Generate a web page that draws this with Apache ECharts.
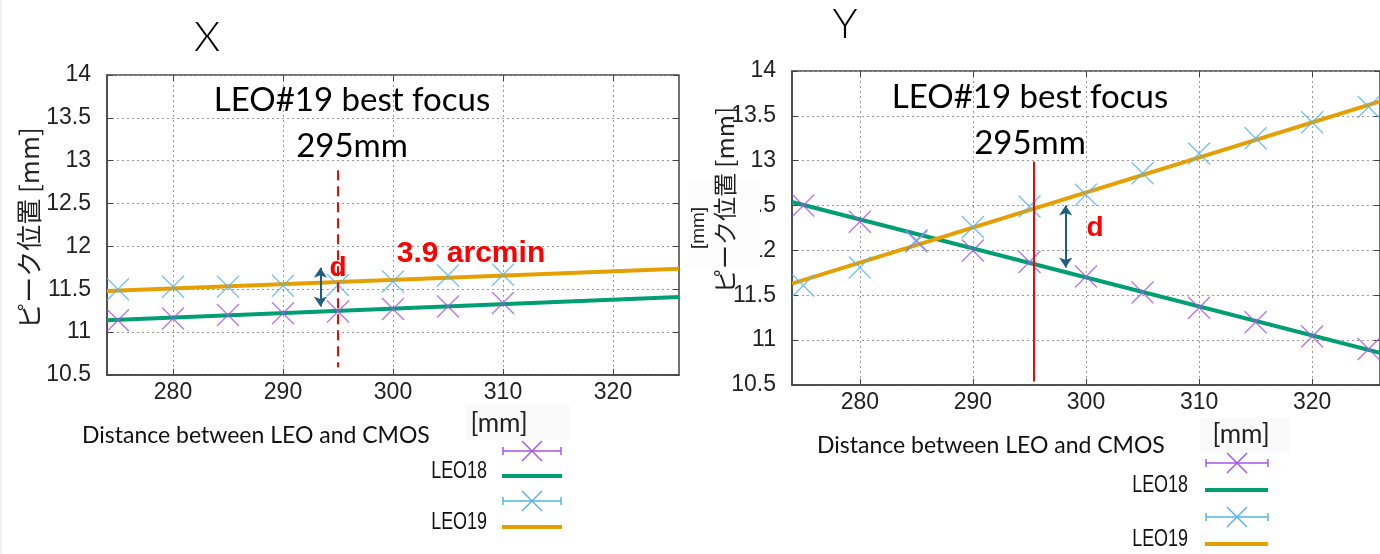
<!DOCTYPE html>
<html><head><meta charset="utf-8">
<script src="https://cdn.jsdelivr.net/npm/echarts@6/dist/echarts.min.js"></script>
<style>html,body{margin:0;padding:0;background:#fff}#c{width:1380px;height:554px}</style>
</head><body><div id="c"></div><script>
// ---- data ----
const xTickValues = [280, 290, 300, 310, 320];
const leftX = [275, 280, 285, 290, 295, 300, 305, 310];
const leftLEO18 = [11.14, 11.16, 11.20, 11.22, 11.24, 11.27, 11.30, 11.34];
const leftLEO19 = [11.50, 11.53, 11.53, 11.54, 11.55, 11.59, 11.66, 11.67];
const leftFitX = [274, 326];
const leftFit18 = [11.14, 11.41];
const leftFit19 = [11.48, 11.74];
const rightX = [275, 280, 285, 290, 295, 300, 305, 310, 315, 320, 325];
const rightLEO18 = [12.50, 12.32, 12.11, 12.00, 11.87, 11.71, 11.53, 11.36, 11.20, 11.04, 10.90];
const rightLEO19 = [11.61, 11.81, 12.10, 12.26, 12.49, 12.62, 12.86, 13.08, 13.25, 13.43, 13.60];
const rightFitX = [274, 326];
const rightFit18 = [12.54, 10.86];
const rightFit19 = [11.63, 13.66];
const leftFocus = 295, rightFocus = 295.4;

const C18 = '#a855e8', C19 = '#56b4e9', G = '#009e73', O = '#e69f00';
const XSYM = 'path://M0,0L10,10M10,0L0,10';
const zip = (a, b) => a.map((v, i) => [v, b[i]]);

const tickFont = { fontFamily: 'Liberation Sans', fontSize: 23, color: '#222' };
function xAxis(g, top) {
  return {
    type: 'value', gridIndex: g, min: 274, max: 326, position: top ? 'top' : 'bottom',
    axisLine: { show: !top, lineStyle: { color: '#444', width: 1.5 } },
    axisTick: { show: true, inside: true, length: 6, customValues: xTickValues, lineStyle: { color: '#444' } },
    axisLabel: { show: !top, customValues: xTickValues, margin: 6, ...tickFont },
    splitLine: { show: !top, lineStyle: { color: '#999', type: [2, 3], width: 1 } }
  };
}
function yAxis(g, right) {
  return {
    type: 'value', gridIndex: g, min: 10.5, max: 14, interval: 0.5, position: right ? 'right' : 'left',
    axisLine: { show: !right, lineStyle: { color: '#444', width: 1.5 } },
    axisTick: { show: true, inside: true, length: 6, lineStyle: { color: '#444' } },
    axisLabel: { show: !right, margin: 16, ...tickFont },
    splitLine: { show: !right, lineStyle: { color: '#999', type: [2, 3], width: 1 } }
  };
}
function marks(name, xi, yi, xs, ys, color) {
  return { type: 'scatter', name, xAxisIndex: xi, yAxisIndex: yi, data: zip(xs, ys), symbol: XSYM, symbolSize: 22,
    itemStyle: { color: 'none', borderColor: color, borderWidth: 1.4 }, z: 3, silent: true };
}
function fit(name, xi, yi, xs, ys, color) {
  return { type: 'line', name, xAxisIndex: xi, yAxisIndex: yi, data: zip(xs, ys), showSymbol: false,
    lineStyle: { color, width: 4 }, z: 2, silent: true };
}
function vline(xi, yi, x, y0, y1, style, sym) {
  return { type: 'line', xAxisIndex: xi, yAxisIndex: yi, data: [], silent: true,
    markLine: { silent: true, symbol: sym || ['none', 'none'], symbolSize: 10, label: { show: false },
      lineStyle: style, data: [[{ coord: [x, y0] }, { coord: [x, y1] }]] } };
}

// ---- graphics ----
const g = [];
function txt(x, y, text, font, fill, align, extra) {
  g.push(Object.assign({ type: 'text', x, y, z: 110, style: { text, font, fill: fill || '#000', align: align || 'center', verticalAlign: 'middle' } }, extra || {}));
}
function ln(x1, y1, x2, y2, stroke, w) {
  g.push({ type: 'line', z: 110, shape: { x1, y1, x2, y2 }, style: { stroke, lineWidth: w } });
}
function errMark(xl, xr, y, color) {
  ln(xl, y, xr, y, color, 1.5);
  ln(xl, y - 4, xl, y + 4, color, 1.5);
  ln(xr, y - 4, xr, y + 4, color, 1.5);
  const cx = (xl + xr) / 2;
  ln(cx - 10, y - 10, cx + 10, y + 10, color, 1.4);
  ln(cx - 10, y + 10, cx + 10, y - 10, color, 1.4);
}
const calib = (s) => s + 'px Lato';
const narrow = { scaleX: 0.78, originX: 0 };
// page edge
ln(1, 0, 1, 554, '#e4e4e4', 1);
// left chart texts
txt(207, 37, 'X', '300 42px Lato');
txt(352, 100, 'LEO#19 best focus', calib(33));
txt(352, 146, '295mm', calib(33));
txt(471, 254, '3.9 arcmin', 'bold 30px Liberation Sans', '#ff0000');
txt(338, 268, 'd', 'bold 28px Liberation Sans', '#ff0000');
txt(29, 228, 'ピーク位置 [mm]', '26px Noto Sans CJK JP', '#222', 'center', { rotation: Math.PI / 2 });
g.push({ type: 'rect', z: 105, shape: { x: 466, y: 405, width: 104, height: 35 }, style: { fill: '#f9f9f9' } });
txt(499, 424, '[mm]', calib(26), '#222');
txt(82, 436, 'Distance between LEO and CMOS', calib(23), '#111', 'left');
errMark(503, 561, 451, C18);
ln(502, 476, 562, 476, G, 4);
txt(487, 472, 'LEO18', '23px Liberation Sans', '#111', 'right', narrow);
errMark(503, 561, 501, C19);
ln(502, 527, 562, 527, O, 4);
txt(487, 523, 'LEO19', '23px Liberation Sans', '#111', 'right', narrow);
// right chart texts
txt(845, 24, 'Y', '300 42px Lato');
txt(1030, 97, 'LEO#19 best focus', calib(33));
txt(1030, 143, '295mm', calib(33));
txt(1095, 228, 'd', 'bold 28px Liberation Sans', '#ff0000');
g.push({ type: 'rect', z: 105, shape: { x: 688, y: 180, width: 72, height: 87 }, style: { fill: '#fdfdfd' } });
txt(725, 200, 'ピーク位置 [mm]', '24px Noto Sans CJK JP', '#222', 'center', { rotation: Math.PI / 2 });
txt(699, 228, '[mm]', '19px Liberation Sans', '#222', 'center', { rotation: Math.PI / 2 });
g.push({ type: 'rect', z: 105, shape: { x: 1200, y: 418, width: 90, height: 34 }, style: { fill: '#fafafa' } });
txt(1241, 435, '[mm]', calib(26), '#222');
txt(817, 446, 'Distance between LEO and CMOS', calib(23), '#111', 'left');
errMark(1206, 1268, 463, C18);
ln(1205, 490, 1268, 490, G, 4);
txt(1188, 486, 'LEO18', '23px Liberation Sans', '#111', 'right', narrow);
errMark(1206, 1268, 517, C19);
ln(1205, 544, 1268, 544, O, 4);
txt(1188, 540, 'LEO19', '23px Liberation Sans', '#111', 'right', narrow);

const chart = echarts.init(document.getElementById('c'), null, { renderer: 'canvas' });
chart.setOption({
  animation: false,
  backgroundColor: '#fff',
  grid: [
    { left: 107, top: 75, width: 572, height: 300, show: true, borderColor: '#444', borderWidth: 1.5, containLabel: false },
    { left: 792, top: 71, width: 600, height: 314, show: true, borderColor: '#444', borderWidth: 1.5, containLabel: false }
  ],
  xAxis: [xAxis(0, false), xAxis(1, false), xAxis(0, true), xAxis(1, true)],
  yAxis: [yAxis(0, false), yAxis(1, false), yAxis(0, true), yAxis(1, true)],
  series: [
    fit('LEO18', 0, 0, leftFitX, leftFit18, G),
    fit('LEO19', 0, 0, leftFitX, leftFit19, O),
    marks('LEO18 data', 0, 0, leftX, leftLEO18, C18),
    marks('LEO19 data', 0, 0, leftX, leftLEO19, C19),
    vline(0, 0, leftFocus, 12.89, 10.59, { color: '#ff0000', width: 2, type: [10, 6] }),
    vline(0, 0, 293.4, 11.75, 11.30, { color: '#1d5f80', width: 2, type: 'solid' }, ['arrow', 'arrow']),
    fit('LEO18', 1, 1, rightFitX, rightFit18, G),
    fit('LEO19', 1, 1, rightFitX, rightFit19, O),
    marks('LEO18 data', 1, 1, rightX, rightLEO18, C18),
    marks('LEO19 data', 1, 1, rightX, rightLEO19, C19),
    vline(1, 1, rightFocus, 12.99, 10.54, { color: '#ff0000', width: 2, type: 'solid' }),
    vline(1, 1, 298.2, 12.50, 11.81, { color: '#1d5f80', width: 2, type: 'solid' }, ['arrow', 'arrow'])
  ],
  graphic: g
});
</script></body></html>
